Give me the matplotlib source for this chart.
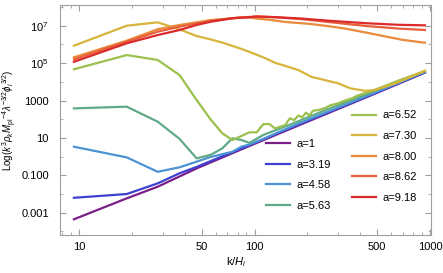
import matplotlib
matplotlib.use("Agg")
from matplotlib import pyplot as plt
import numpy as np

plt.rcParams["font.family"] = ["Liberation Sans", "DejaVu Sans"]
plt.rcParams["mathtext.fontset"] = "custom"
plt.rcParams["mathtext.rm"] = "Liberation Sans"
plt.rcParams["mathtext.it"] = "Liberation Sans:italic"

# spectra: k/H_i and log10 of the spectrum
labels = ["a=1", "a=3.19", "a=4.58", "a=5.63", "a=6.52", "a=7.30", "a=8.00", "a=8.62", "a=9.18"]
colors = ["#7a1f87", "#3f40d2", "#4c93d6", "#5faa88", "#9bc04c", "#d7b43b", "#ea8a3a", "#e6603c", "#dc2a2a"]

k_a1 = [9.35, 18.7, 28.05, 46.75, 93.5, 187, 467.5, 935]
y_a1 = [-3.35, -2.23, -1.61, -0.63, 0.57, 1.75, 3.3, 4.49]

k_a319 = [9.35, 18.7, 28.05, 37.4, 46.75, 93.5, 187, 467.5, 935]
y_a319 = [-2.2, -2.0, -1.43, -0.89, -0.55, 0.62, 1.8, 3.33, 4.51]

k_a458 = [9.35, 18.7, 28.05, 37.4, 46.75, 56.1, 74.8, 84.15, 93.5, 112.2, 140.25, 187, 467.5, 935]
y_a458 = [0.53, -0.04, -0.81, -0.57, -0.27, -0.02, 0.26, 0.53, 0.65, 0.95, 1.35, 1.85, 3.36, 4.53]

k_a563 = [9.35, 18.7, 28.05, 37.4, 46.75, 56.1, 65.45, 74.8, 84.15, 93.5, 112.2, 140.25,
          168.3, 187, 233.75, 280.5, 374, 467.5, 654.5, 935]
y_a563 = [2.58, 2.67, 1.87, 0.95, -0.09, 0.09, 0.44, 0.98, 0.89, 0.74, 1.16, 1.51,
          1.80, 1.98, 2.35, 2.65, 3.1, 3.45, 4.0, 4.56]

k_a652 = [9.35, 18.7, 28.05, 37.4, 46.75, 56.1, 65.45, 74.8, 84.15, 93.5, 102.85, 112.2,
          121.55, 130.9, 140.25, 149.6, 158.95, 168.3, 177.65, 187, 196.35, 205.7, 215.05,
          233.75, 252.45, 271.15, 299.2, 327.25, 355.3, 383.35, 420.75, 467.5, 561, 654.5,
          748, 935]
y_a652 = [4.67, 5.43, 5.17, 4.36, 3.03, 2.0, 1.25, 0.89, 1.10, 1.30, 1.30, 1.74,
          1.74, 1.51, 1.60, 1.69, 2.05, 1.95, 2.2, 2.1, 2.35, 2.2, 2.45,
          2.5, 2.6, 2.75, 2.85, 3.0, 3.1, 3.25, 3.38, 3.52, 3.8, 4.05,
          4.25, 4.58]

k_a730 = [9.35, 18.7, 28.05, 37.4, 46.75, 56.1, 65.45, 74.8, 84.15, 93.5, 112.2, 130.9,
          177.65, 210.4, 299.2, 352.5, 425.4, 486.2, 542.3, 635.8, 748, 935]
y_a730 = [5.93, 7.0, 7.18, 6.8, 6.45, 6.27, 6.1, 5.92, 5.76, 5.6, 5.31, 5.02,
          4.63, 4.27, 3.92, 3.65, 3.52, 3.56, 3.71, 3.92, 4.2, 4.59]

k_a800 = [9.35, 18.7, 28.05, 37.4, 46.75, 56.1, 74.8, 84.15, 93.5, 102.85, 121.55, 149.6,
          205.7, 261.8, 327.25, 439.45, 561, 701.25, 935]
y_a800 = [5.31, 6.2, 6.81, 7.04, 7.18, 7.3, 7.4, 7.45, 7.45, 7.38, 7.32, 7.2,
          7.1, 6.98, 6.85, 6.62, 6.42, 6.24, 6.09]

k_a862 = [9.35, 18.7, 28.05, 37.4, 46.75, 56.1, 74.8, 93.5, 102.85, 130.9, 187, 261.8,
          439.45, 654.5, 935]
y_a862 = [5.2, 6.15, 6.68, 6.95, 7.12, 7.25, 7.4, 7.47, 7.5, 7.45, 7.35, 7.2,
          6.98, 6.85, 6.77]

k_a918 = [9.35, 18.7, 28.05, 37.4, 46.75, 56.1, 74.8, 93.5, 102.85, 130.9, 187, 261.8,
          439.45, 654.5, 935]
y_a918 = [5.07, 6.06, 6.5, 6.77, 7.04, 7.21, 7.4, 7.45, 7.49, 7.46, 7.38, 7.27,
          7.13, 7.05, 7.02]

ks = [k_a1, k_a319, k_a458, k_a563, k_a652, k_a730, k_a800, k_a862, k_a918]
ys = [y_a1, y_a319, y_a458, y_a563, y_a652, y_a730, y_a800, y_a862, y_a918]

xticks = [10, 50, 100, 500, 1000]
xtick_labels = ["10", "50", "100", "500", "1000"]
yticks = [1e-3, 1e-1, 1e1, 1e3, 1e5, 1e7]
ytick_labels = ["0.001", "0.100", "10", "1000", r"$10^5$", r"$10^7$"]

fig = plt.figure(figsize=(4.43, 2.73), dpi=100)
ax = fig.add_axes([60 / 443, 1 - 235 / 273, 371 / 443, 230 / 273])

lines = []
for k, y, c, lab in zip(ks, ys, colors, labels):
    ln, = ax.plot(k, 10 ** np.array(y), color=c, lw=1.6, label=lab)
    lines.append(ln)

ax.set_xscale("log")
ax.set_yscale("log")
ax.set_xlim(7.79, 1013)
ax.set_ylim(6.46e-5, 1.28e8)

ax.set_xticks(xticks)
ax.set_xticklabels(xtick_labels)
ax.set_xticks([8, 9, 20, 30, 40, 60, 70, 80, 90, 200, 300, 400, 600, 700, 800, 900], minor=True)
ax.set_xticklabels([], minor=True)
ax.set_yticks(yticks)
ax.set_yticklabels(ytick_labels)
ax.set_yticks([1e-4, 1e-2, 1, 1e2, 1e4, 1e6, 1e8], minor=True)
ax.set_yticklabels([], minor=True)

for s in ax.spines.values():
    s.set_color("#a0a0a0")
ax.tick_params(which="both", direction="in", top=True, right=True, color="#a0a0a0", labelsize=8)
ax.tick_params(which="major", length=4)
ax.tick_params(which="minor", length=2.5)
ax.tick_params(axis="y", pad=8)
ax.tick_params(axis="x", pad=5)

fig.text(10 / 443, 1 - 120 / 273,
         r"Log($k^3\rho_k M_{\mathrm{pl}}{}^{-4}\lambda^{-3/2}\phi_i{}^{3/2}$)",
         rotation=90, ha="center", va="center", fontsize=7)
fig.text(236 / 443, 1 - 262 / 273, r"k/$H_i$", ha="center", va="center", fontsize=8)

leg_kw = dict(frameon=False, fontsize=8, handlelength=2.16, handletextpad=0.6,
              labelspacing=0.95, borderpad=0, borderaxespad=0, loc="upper left",
              bbox_transform=fig.transFigure)
leg1 = ax.legend(lines[:4], labels[:4], bbox_to_anchor=(266 / 443, 1 - 139 / 273), **leg_kw)
ax.add_artist(leg1)
ax.legend(lines[4:], labels[4:], bbox_to_anchor=(352 / 443, 1 - 110.5 / 273), **leg_kw)

fig.savefig("out.png", dpi=100)
